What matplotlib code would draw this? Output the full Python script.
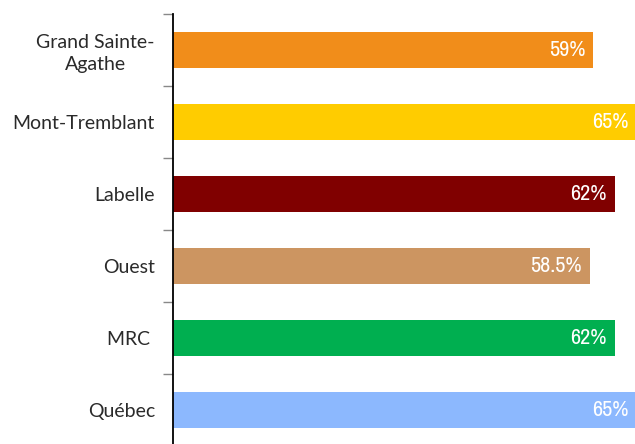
import matplotlib
matplotlib.use('Agg')
import matplotlib.pyplot as plt
from matplotlib import font_manager

categories = ["Grand Sainte-\nAgathe", "Mont-Tremblant", "Labelle", "Ouest", "MRC ", "Québec"]
values = [59, 65, 62, 58.5, 62, 65]
labels = ["59%", "65%", "62%", "58.5%", "62%", "65%"]
colors = ["#F18D1A", "#FFCC00", "#800000", "#CC9561", "#00AF50", "#8CB8FE"]

# look for a narrow font for the value labels
narrow = None
for f in font_manager.fontManager.ttflist:
    n = f.name.lower()
    if ('narrow' in n or 'condensed' in n) and f.style == 'normal':
        narrow = f.name
        break
value_family = [narrow, 'DejaVu Sans'] if narrow else ['DejaVu Sans']

fig = plt.figure(figsize=(6.35, 4.44), dpi=100)
ax = fig.add_axes([173 / 635, -2 / 444, 463 / 635, 432 / 444])

pos = list(range(len(categories)))
bars = ax.barh(pos, values, height=0.5, color=colors)
ax.set_ylim(len(categories) - 0.5, -0.5)
ax.set_xlim(0, 65.0)

# value labels inside the bar ends
for bar, lab in zip(bars, labels):
    ax.annotate(lab, xy=(bar.get_width(), bar.get_y() + bar.get_height() / 2),
                xytext=(-5.5, 0), textcoords='offset points',
                ha='right', va='center', color='white', fontsize=16,
                family=value_family)

# category ticks between bands, labels centred on bands
ax.set_yticks([p - 0.5 for p in pos] + [len(pos) - 0.5])
ax.set_yticks(pos, minor=True)
ax.set_yticklabels([])
ax.set_yticklabels(categories, minor=True, fontsize=14, family='Lato',
                   color='#2a2a2a', multialignment='center', linespacing=1.3)
ax.tick_params(axis='y', which='major', length=7, color='#888888', width=1)
ax.tick_params(axis='y', which='minor', length=0, pad=13)
ax.set_xticks([])

for side in ['top', 'right', 'bottom']:
    ax.spines[side].set_visible(False)
ax.spines['left'].set_linewidth(1.3)
ax.spines['left'].set_color('black')

fig.savefig('out.png', dpi=100)
plt.close()
